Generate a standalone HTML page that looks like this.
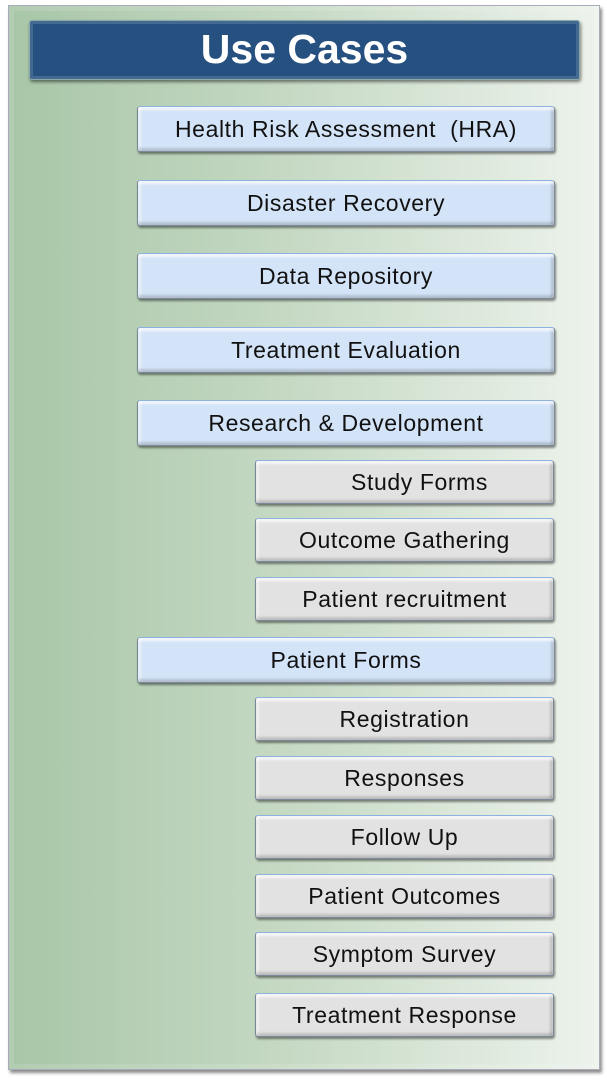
<!DOCTYPE html>
<html><head><meta charset="utf-8"><style>
body{margin:0;width:607px;height:1080px;background:#fff;position:relative;overflow:hidden;font-family:"Liberation Sans",sans-serif}
.panel{position:absolute;left:8px;top:5px;width:590px;height:1063px;background:linear-gradient(to right,#a8c6a8,#c4d8c2 45%,#edf3ec);border:1px solid #aab;box-shadow:2px 3px 3px rgba(0,0,0,.45),inset 0 0 0 5px rgba(255,255,255,.12)}
.title{position:absolute;left:29px;top:20px;width:549px;height:58px;background:#25507f;border:1px solid #8aa;border-radius:3px;box-shadow:1px 2px 3px rgba(0,0,0,.5),inset 0 0 0 3px rgba(255,255,255,.15);color:#fff;font-weight:bold;font-size:41px;text-align:center;line-height:56px}
.b{position:absolute;box-sizing:border-box;border:1px solid #7a8a9a;border-radius:3px;text-align:center;font-size:23px;letter-spacing:0.6px;color:#111;box-shadow:1px 2px 2px rgba(0,0,0,.45),inset 0 3px 2px rgba(255,255,255,.7),inset 0 -3px 2px rgba(0,0,0,.15),inset 3px 0 2px rgba(255,255,255,.5),inset -3px 0 2px rgba(0,0,0,.15)}
.bl{left:137px;width:418px;height:46px;line-height:44px;background:#d4e4f8;border-top-color:#8eb2e0}
.g{left:255px;width:299px;height:44px;line-height:42px;background:#e2e2e2;border-top-color:#8eb2e0}
</style></head><body>
<div class="panel"></div>
<div class="title">Use Cases</div>
<div class="b bl" style="top:106px">Health Risk Assessment&nbsp; (HRA)</div>
<div class="b bl" style="top:180px">Disaster Recovery</div>
<div class="b bl" style="top:253px">Data Repository</div>
<div class="b bl" style="top:327px">Treatment Evaluation</div>
<div class="b bl" style="top:400px">Research &amp; Development</div>
<div class="b g" style="top:460px;padding-left:30px">Study Forms</div>
<div class="b g" style="top:518px">Outcome Gathering</div>
<div class="b g" style="top:577px">Patient recruitment</div>
<div class="b bl" style="top:637px">Patient Forms</div>
<div class="b g" style="top:697px">Registration</div>
<div class="b g" style="top:756px">Responses</div>
<div class="b g" style="top:815px">Follow Up</div>
<div class="b g" style="top:874px">Patient Outcomes</div>
<div class="b g" style="top:932px">Symptom Survey</div>
<div class="b g" style="top:993px">Treatment Response</div>
</body></html>
